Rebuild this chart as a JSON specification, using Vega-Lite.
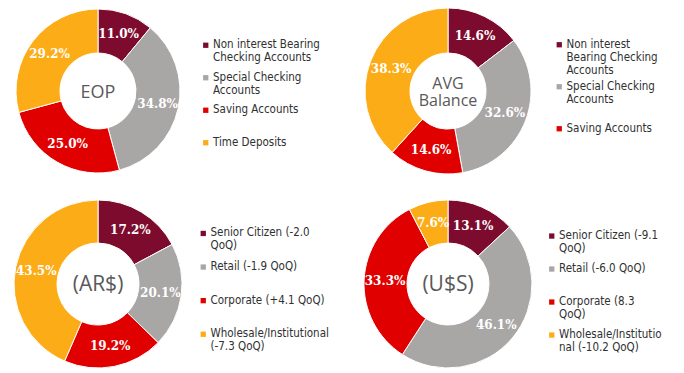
{
  "$schema": "https://vega.github.io/schema/vega-lite/v6.json",
  "padding": 0,
  "background": "white",
  "bounds": "flush",
  "columns": 2,
  "spacing": {"row": 11, "column": 154},
  "datasets": {
    "eop": [
      {"cat": "Non interest Bearing|Checking Accounts", "v": 0.110, "idx": 1},
      {"cat": "Special Checking|Accounts", "v": 0.348, "idx": 2},
      {"cat": "Saving Accounts", "v": 0.250, "idx": 3},
      {"cat": "Time Deposits", "v": 0.292, "idx": 4}
    ],
    "avg": [
      {"cat": "Non interest|Bearing Checking|Accounts", "v": 0.146, "idx": 1},
      {"cat": "Special Checking|Accounts", "v": 0.326, "idx": 2},
      {"cat": "Saving Accounts", "v": 0.146, "idx": 3},
      {"cat": "Time Deposits", "v": 0.383, "idx": 4}
    ],
    "ars": [
      {"cat": "Senior Citizen (-2.0|QoQ)", "v": 0.172, "idx": 1},
      {"cat": "Retail (-1.9 QoQ)", "v": 0.201, "idx": 2},
      {"cat": "Corporate (+4.1 QoQ)", "v": 0.192, "idx": 3},
      {"cat": "Wholesale/Institutional|(-7.3 QoQ)", "v": 0.435, "idx": 4}
    ],
    "usd": [
      {"cat": "Senior Citizen (-9.1|QoQ)", "v": 0.131, "idx": 1},
      {"cat": "Retail (-6.0 QoQ)", "v": 0.461, "idx": 2},
      {"cat": "Corporate (8.3|QoQ)", "v": 0.333, "idx": 3},
      {"cat": "Wholesale/Institutio|nal (-10.2 QoQ)", "v": 0.076, "idx": 4}
    ],
    "t1": [{"t": "EOP"}],
    "t2": [{"t": "AVG|Balance"}],
    "t3": [{"t": "(AR$)"}],
    "t4": [{"t": "(U$S)"}]
  },
  "resolve": {"scale": {"color": "independent"}, "legend": {"color": "independent"}},
  "concat": [
    {
      "width": 196, "height": 182,
      "layer": [
        {
          "data": {"name": "eop"},
          "mark": {"type": "arc", "outerRadius": 82, "innerRadius": 38, "stroke": "white", "strokeWidth": 1},
          "encoding": {
            "theta": {"field": "v", "type": "quantitative", "stack": true},
            "order": {"field": "idx", "type": "quantitative"},
            "color": {
              "field": "cat", "type": "nominal",
              "scale": {"domain": ["Non interest Bearing|Checking Accounts", "Special Checking|Accounts", "Saving Accounts", "Time Deposits"], "range": ["#7d0b2e", "#a9a6a6", "#e10000", "#fcac16"]},
              "legend": {"legendX": 200, "legendY": 39.5, "rowPadding": 6.5, "labelExpr": "split(datum.label, '|')"}
            }
          }
        },
        {
          "data": {"name": "eop"},
          "mark": {"type": "text", "radius": 61, "font": "DejaVu Serif", "fontWeight": "bold", "fontSize": 12, "fill": "white"},
          "encoding": {
            "theta": {"field": "v", "type": "quantitative", "stack": true},
            "order": {"field": "idx", "type": "quantitative"},
            "text": {"field": "v", "type": "quantitative", "format": ".1%"}
          }
        },
        {
          "data": {"name": "t1"},
          "mark": {"type": "text", "font": "Open Sans", "fontSize": 18, "fill": "#595959", "dy": 2},
          "encoding": {"text": {"field": "t", "type": "nominal"}}
        }
      ]
    },
    {
      "width": 196, "height": 182,
      "layer": [
        {
          "data": {"name": "avg"},
          "mark": {"type": "arc", "outerRadius": 83, "innerRadius": 38, "stroke": "white", "strokeWidth": 1},
          "encoding": {
            "theta": {"field": "v", "type": "quantitative", "stack": true},
            "order": {"field": "idx", "type": "quantitative"},
            "color": {
              "field": "cat", "type": "nominal",
              "scale": {"domain": ["Non interest|Bearing Checking|Accounts", "Special Checking|Accounts", "Saving Accounts", "Time Deposits"], "range": ["#7d0b2e", "#a9a6a6", "#e10000", "#fcac16"]},
              "legend": {"legendX": 203.5, "legendY": 39, "rowPadding": 3, "labelExpr": "split(datum.label, '|')", "values": ["Non interest|Bearing Checking|Accounts", "Special Checking|Accounts", "Saving Accounts"]}
            }
          }
        },
        {
          "data": {"name": "avg"},
          "mark": {"type": "text", "radius": 61, "font": "DejaVu Serif", "fontWeight": "bold", "fontSize": 12, "fill": "white"},
          "encoding": {
            "theta": {"field": "v", "type": "quantitative", "stack": true},
            "order": {"field": "idx", "type": "quantitative"},
            "text": {"field": "v", "type": "quantitative", "format": ".1%"}
          }
        },
        {
          "data": {"name": "t2"},
          "transform": [{"calculate": "split(datum.t, '|')", "as": "lines"}],
          "mark": {"type": "text", "font": "Open Sans", "fontSize": 16, "fill": "#595959", "dy": -7, "lineHeight": 17},
          "encoding": {"text": {"field": "lines"}}
        }
      ]
    },
    {
      "width": 196, "height": 182,
      "layer": [
        {
          "data": {"name": "ars"},
          "mark": {"type": "arc", "outerRadius": 84, "innerRadius": 41, "stroke": "white", "strokeWidth": 1},
          "encoding": {
            "theta": {"field": "v", "type": "quantitative", "stack": true},
            "order": {"field": "idx", "type": "quantitative"},
            "color": {
              "field": "cat", "type": "nominal",
              "scale": {"domain": ["Senior Citizen (-2.0|QoQ)", "Retail (-1.9 QoQ)", "Corporate (+4.1 QoQ)", "Wholesale/Institutional|(-7.3 QoQ)"], "range": ["#7d0b2e", "#a9a6a6", "#e10000", "#fcac16"]},
              "legend": {"legendX": 197.5, "legendY": 34.7, "rowPadding": 7.6, "labelExpr": "split(datum.label, '|')"}
            }
          }
        },
        {
          "data": {"name": "ars"},
          "mark": {"type": "text", "radius": 63, "font": "DejaVu Serif", "fontWeight": "bold", "fontSize": 12, "fill": "white"},
          "encoding": {
            "theta": {"field": "v", "type": "quantitative", "stack": true},
            "order": {"field": "idx", "type": "quantitative"},
            "text": {"field": "v", "type": "quantitative", "format": ".1%"}
          }
        },
        {
          "data": {"name": "t3"},
          "mark": {"type": "text", "font": "Open Sans", "fontSize": 21, "fill": "#595959", "dy": 1},
          "encoding": {"text": {"field": "t", "type": "nominal"}}
        }
      ]
    },
    {
      "width": 196, "height": 182,
      "layer": [
        {
          "data": {"name": "usd"},
          "mark": {"type": "arc", "outerRadius": 84, "innerRadius": 41, "stroke": "white", "strokeWidth": 1},
          "encoding": {
            "theta": {"field": "v", "type": "quantitative", "stack": true},
            "order": {"field": "idx", "type": "quantitative"},
            "color": {
              "field": "cat", "type": "nominal",
              "scale": {"domain": ["Senior Citizen (-9.1|QoQ)", "Retail (-6.0 QoQ)", "Corporate (8.3|QoQ)", "Wholesale/Institutio|nal (-10.2 QoQ)"], "range": ["#7d0b2e", "#a9a6a6", "#e10000", "#fcac16"]},
              "legend": {"legendX": 196, "legendY": 37.3, "rowPadding": 7, "labelExpr": "split(datum.label, '|')"}
            }
          }
        },
        {
          "data": {"name": "usd"},
          "mark": {"type": "text", "radius": 63, "font": "DejaVu Serif", "fontWeight": "bold", "fontSize": 12, "fill": "white"},
          "encoding": {
            "theta": {"field": "v", "type": "quantitative", "stack": true},
            "order": {"field": "idx", "type": "quantitative"},
            "text": {"field": "v", "type": "quantitative", "format": ".1%"}
          }
        },
        {
          "data": {"name": "t4"},
          "mark": {"type": "text", "font": "Open Sans", "fontSize": 21, "fill": "#595959", "dy": 1},
          "encoding": {"text": {"field": "t", "type": "nominal"}}
        }
      ]
    }
  ],
  "config": {
    "view": {"stroke": null},
    "style": {"guide-label": {"lineHeight": 13}},
    "legend": {
      "orient": "none",
      "title": null,
      "direction": "vertical",
      "symbolType": "square",
      "symbolSize": 28,
      "symbolStrokeWidth": 0,
      "labelFont": "DejaVu Sans Condensed",
      "labelFontSize": 11.5,
      "labelColor": "#303030",
      "labelBaseline": "middle",
      "labelOffset": 1.5,
      "labelLimit": 0,
      "gridAlign": "all",
      "padding": 0
    }
  }
}
